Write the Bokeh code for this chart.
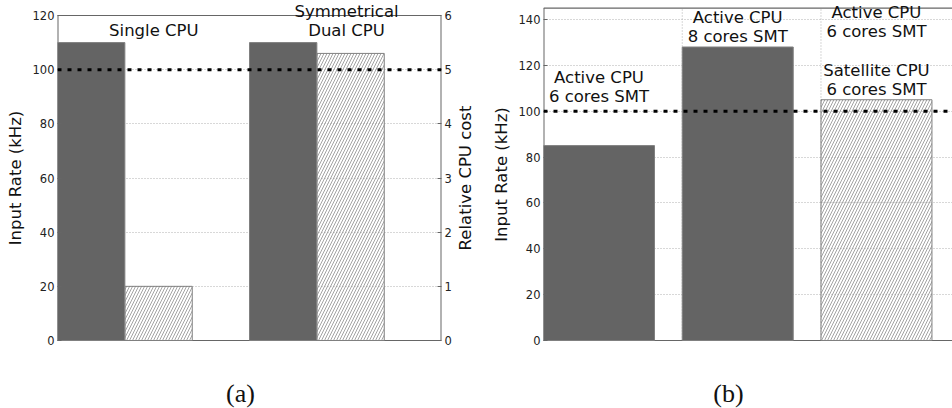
import math
from bokeh.plotting import figure
from bokeh.models import Range1d, LinearAxis, Span, Label, FixedTicker, ColumnDataSource
from bokeh.layouts import row, column
from bokeh.embed import file_html
from bokeh.resources import INLINE

# ---------------- data ----------------
# panel (a)
a_rate_groups = ["Single CPU", "Symmetrical\nDual CPU"]
a_input_rate = [110, 110]          # kHz (left axis, dark bars)
a_cpu_cost = [1.0, 5.3]            # relative CPU cost (right axis, hatched bars)
a_target_rate = 100
a_left_ticks = [0, 20, 40, 60, 80, 100, 120]
a_right_ticks = [0, 1, 2, 3, 4, 5, 6]
a_left_title = "Input Rate (kHz)"
a_right_title = "Relative CPU cost"
a_caption = "(a)"

# panel (b)
b_labels = ["Active CPU\n6 cores SMT", "Active CPU\n8 cores SMT",
            "Active CPU\n6 cores SMT\n\nSatellite CPU\n6 cores SMT"]
b_input_rate = [85, 128, 105]      # kHz
b_hatched = [False, False, True]
b_target_rate = 100
b_ticks = [0, 20, 40, 60, 80, 100, 120, 140]
b_left_title = "Input Rate (kHz)"
b_caption = "(b)"

# ---------------- styles ----------------
FONT = "DejaVu Sans"
DARK = "#646464"
EDGE = "#808080"
SPINE = "#666666"
GRID = "#b0b0b0"
HATCH = "#999999"
LBL = "16.5px"
TICK = "11.5px"
CAP = "26px"


def style_axis(ax):
    ax.major_label_text_font = FONT
    ax.major_label_text_font_size = TICK
    ax.major_label_text_color = "#222222"
    ax.axis_label_text_font = FONT
    ax.axis_label_text_font_size = LBL
    ax.axis_label_text_font_style = "normal"
    ax.axis_label_text_color = "#111111"
    ax.major_tick_in = 4
    ax.major_tick_out = 0
    ax.minor_tick_in = 0
    ax.minor_tick_out = 0
    ax.major_tick_line_color = SPINE
    ax.axis_line_color = None
    ax.major_label_standoff = 3
    ax.axis_label_standoff = 5


def blank_fig(w, h):
    f = figure(width=w, height=h, output_backend="svg", toolbar_location=None,
               x_range=Range1d(0, w), y_range=Range1d(0, h),
               x_axis_type=None, y_axis_type=None,
               min_border_left=0, min_border_right=0, min_border_top=0, min_border_bottom=0)
    f.outline_line_color = None
    f.background_fill_color = "white"
    f.border_fill_color = "white"
    return f


def txt_label(x, y, text, size=LBL, font=FONT, angle=0.0):
    return Label(x=x, y=y, text=text, text_align="center", text_baseline="middle",
                 text_font=font, text_font_size=size, text_color="#111111", angle=angle)


# ---------------- panel (a) ----------------
bw = 1.0
gap_a = 0.85
a_x_dark = [0.5, 2 * bw + gap_a + 0.5]
a_x_hatch = [1.5, 2 * bw + gap_a + 1.5]
a_ymax = a_left_ticks[-1]
a_k = 325.0 / a_ymax                  # px per kHz
a_pad = 15.0 / a_k                    # frame padding above top / below zero
a_xmax = 5.7
a_cost_k = a_right_ticks[-1] / a_ymax
H_A = 355

pa = figure(width=455, height=H_A, output_backend="svg", toolbar_location=None,
            x_range=Range1d(0, a_xmax), y_range=Range1d(-a_pad, a_ymax + a_pad),
            x_axis_type=None,
            min_border_left=57, min_border_right=14, min_border_top=0, min_border_bottom=0)
pa.extra_y_ranges = {"cost": Range1d(-a_pad * a_cost_k, (a_ymax + a_pad) * a_cost_k)}
pa.outline_line_color = None
pa.background_fill_color = "white"
pa.ygrid.grid_line_color = GRID
pa.ygrid.grid_line_dash = "1 2"
pa.yaxis.ticker = FixedTicker(ticks=a_left_ticks)
pa.yaxis.axis_label = a_left_title
style_axis(pa.yaxis[0])

ra = LinearAxis(y_range_name="cost", ticker=FixedTicker(ticks=a_right_ticks))
style_axis(ra)
pa.add_layout(ra, "right")

# spines
pa.segment(x0=[0, a_xmax], y0=[0, 0], x1=[0, a_xmax], y1=[a_ymax, a_ymax],
           line_color=SPINE, line_width=2)
pa.segment(x0=[0, 0], y0=[0, a_ymax], x1=[a_xmax, a_xmax], y1=[0, a_ymax],
           line_color=SPINE, line_width=1.2)

pa.vbar(x=a_x_dark, top=a_input_rate, width=bw, bottom=0,
        fill_color=DARK, line_color=EDGE, line_width=1)
pa.vbar(x=a_x_hatch, top=a_cpu_cost, width=bw, bottom=0, y_range_name="cost",
        fill_alpha=0, line_color=EDGE, line_width=1,
        hatch_pattern="/", hatch_color=HATCH, hatch_scale=6, hatch_weight=0.9)
pa.add_layout(Span(location=a_target_rate, dimension="width", line_color="black",
                   line_width=3, line_dash="4 6"))

a_label_pos = [(1.43, [114.5]), (4.29, [121.5, 114.5])]
for txt, (lx, ys) in zip(a_rate_groups, a_label_pos):
    for line, ly in zip(txt.split("\n"), ys):
        pa.add_layout(txt_label(lx, ly, line))

# right axis title strip (reads bottom-to-top)
ra_fig = blank_fig(21, H_A)
ra_fig.add_layout(txt_label(9.5, H_A / 2.0, a_right_title, angle=math.pi / 2))

# ---------------- panel (b) ----------------
gap_b = 0.25
b_x = [0.5 + i * (bw + gap_b) for i in range(len(b_input_rate))]
b_ymax = 145
b_k = 321.0 / b_ticks[-1]
b_xmax = 3.685
H_B = 348
b_ytop = 340.0 / b_k
b_ybot = -(H_B - 340.0) / b_k
b_vgrid = [1.25, 2.5]

src_dark = ColumnDataSource(dict(x=[x for x, h in zip(b_x, b_hatched) if not h],
                                 top=[v for v, h in zip(b_input_rate, b_hatched) if not h]))
src_hatch = ColumnDataSource(dict(x=[x for x, h in zip(b_x, b_hatched) if h],
                                  top=[v for v, h in zip(b_input_rate, b_hatched) if h]))

pb = figure(width=476, height=H_B, output_backend="svg", toolbar_location=None,
            x_range=Range1d(0, b_xmax), y_range=Range1d(b_ybot, b_ytop),
            x_axis_type=None,
            min_border_left=67, min_border_right=0, min_border_top=0, min_border_bottom=0)
pb.outline_line_color = None
pb.background_fill_color = "white"
pb.ygrid.grid_line_color = GRID
pb.ygrid.grid_line_dash = "1 2"
pb.yaxis.ticker = FixedTicker(ticks=b_ticks)
pb.yaxis.axis_label = b_left_title
style_axis(pb.yaxis[0])

pb.segment(x0=b_vgrid, y0=[0] * len(b_vgrid), x1=b_vgrid, y1=[b_ymax] * len(b_vgrid),
           line_color=GRID, line_dash="1 2", line_width=1)
pb.segment(x0=[0], y0=[0], x1=[0], y1=[b_ymax], line_color=SPINE, line_width=2)
pb.segment(x0=[0, 0], y0=[0, b_ymax], x1=[b_xmax, b_xmax], y1=[0, b_ymax],
           line_color=SPINE, line_width=1.2)

pb.vbar(x="x", top="top", width=bw, bottom=0, source=src_dark,
        fill_color=DARK, line_color=EDGE, line_width=1)
pb.vbar(x="x", top="top", width=bw, bottom=0, source=src_hatch,
        fill_alpha=0, line_color=EDGE, line_width=1,
        hatch_pattern="/", hatch_color=HATCH, hatch_scale=6, hatch_weight=0.9)
pb.add_layout(Span(location=b_target_rate, dimension="width", line_color="black",
                   line_width=3, line_dash="4 6"))

b_label_ys = [[114.5, 106.2], [140.9, 132.4], [143.1, 134.6, None, 117.6, 109.5]]
for txt, lx, ys in zip(b_labels, b_x, b_label_ys):
    for line, ly in zip(txt.split("\n"), ys):
        if not line:
            continue
        pb.add_layout(txt_label(lx, ly, line))

# ---------------- captions ----------------
cap = blank_fig(952, 408 - H_A)
cap.add_layout(txt_label(240, 15, a_caption, size=CAP, font="Liberation Serif"))
cap.add_layout(txt_label(728, 15, b_caption, size=CAP, font="Liberation Serif"))

layout = column(row(pa, ra_fig, pb, spacing=0), cap, spacing=0)
open("out.html", "w").write(file_html(layout, INLINE))
